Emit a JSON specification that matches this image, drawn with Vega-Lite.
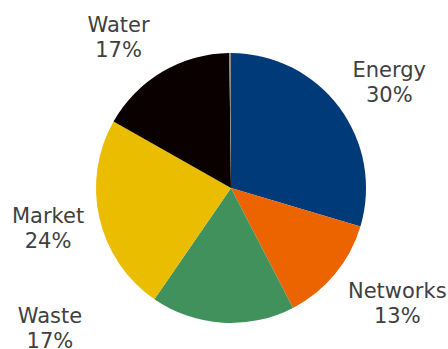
{
  "$schema": "https://vega.github.io/schema/vega-lite/v6.json",
  "width": 448,
  "height": 349,
  "autosize": {"type": "fit", "contains": "padding"},
  "padding": {"left": 14, "top": 27, "right": 0, "bottom": 0},
  "background": "white",
  "view": {"stroke": null},
  "data": {
    "values": [
      {"category": "Energy", "value": 29.6, "rank": 1},
      {"category": "Networks", "value": 12.8, "rank": 2},
      {"category": "Waste", "value": 17.2, "rank": 3},
      {"category": "Market", "value": 23.6, "rank": 4},
      {"category": "Water", "value": 16.6, "rank": 5},
      {"category": "Other", "value": 0.2, "rank": 6}
    ]
  },
  "transform": [
    {"stack": "value", "groupby": [], "sort": [{"field": "rank", "order": "ascending"}], "as": ["v0", "v1"]},
    {"calculate": "(datum.v0 + datum.v1) / 2", "as": "mid"},
    {"calculate": "datum.category + '\\n' + format(datum.value / 100, '.0%')", "as": "label"}
  ],
  "layer": [
    {
      "mark": {"type": "arc", "outerRadius": 135},
      "encoding": {
        "theta": {"field": "v0", "type": "quantitative", "scale": {"domain": [0, 100]}},
        "theta2": {"field": "v1"},
        "color": {
          "field": "category",
          "type": "nominal",
          "scale": {
            "domain": ["Energy", "Networks", "Waste", "Market", "Water", "Other"],
            "range": ["#003A78", "#EB6400", "#41915C", "#EBBD00", "#0A0000", "#8C8C8C"]
          },
          "legend": null
        }
      }
    },
    {
      "transform": [{"filter": "datum.category === 'Energy'"}],
      "mark": {"type": "text", "radius": 160, "dx": 30, "dy": -21, "align": "center", "baseline": "middle", "lineBreak": "\n", "lineHeight": 25, "font": "DejaVu Sans", "fontSize": 21, "color": "#404040"},
      "encoding": {"theta": {"field": "mid", "type": "quantitative", "scale": {"domain": [0, 100]}}, "text": {"field": "label"}}
    },
    {
      "transform": [{"filter": "datum.category === 'Networks'"}],
      "mark": {"type": "text", "radius": 160, "dx": 43, "dy": 2, "align": "center", "baseline": "middle", "lineBreak": "\n", "lineHeight": 25, "font": "DejaVu Sans", "fontSize": 21, "color": "#404040"},
      "encoding": {"theta": {"field": "mid", "type": "quantitative", "scale": {"domain": [0, 100]}}, "text": {"field": "label"}}
    },
    {
      "transform": [{"filter": "datum.category === 'Waste'"}],
      "mark": {"type": "text", "radius": 160, "dx": -171, "dy": -31, "align": "center", "baseline": "middle", "lineBreak": "\n", "lineHeight": 25, "font": "DejaVu Sans", "fontSize": 21, "color": "#404040"},
      "encoding": {"theta": {"field": "mid", "type": "quantitative", "scale": {"domain": [0, 100]}}, "text": {"field": "label"}}
    },
    {
      "transform": [{"filter": "datum.category === 'Market'"}],
      "mark": {"type": "text", "radius": 160, "dx": -27, "dy": -7, "align": "center", "baseline": "middle", "lineBreak": "\n", "lineHeight": 25, "font": "DejaVu Sans", "fontSize": 21, "color": "#404040"},
      "encoding": {"theta": {"field": "mid", "type": "quantitative", "scale": {"domain": [0, 100]}}, "text": {"field": "label"}}
    },
    {
      "transform": [{"filter": "datum.category === 'Water'"}],
      "mark": {"type": "text", "radius": 160, "dx": -31, "dy": -24, "align": "center", "baseline": "middle", "lineBreak": "\n", "lineHeight": 25, "font": "DejaVu Sans", "fontSize": 21, "color": "#404040"},
      "encoding": {"theta": {"field": "mid", "type": "quantitative", "scale": {"domain": [0, 100]}}, "text": {"field": "label"}}
    }
  ]
}
